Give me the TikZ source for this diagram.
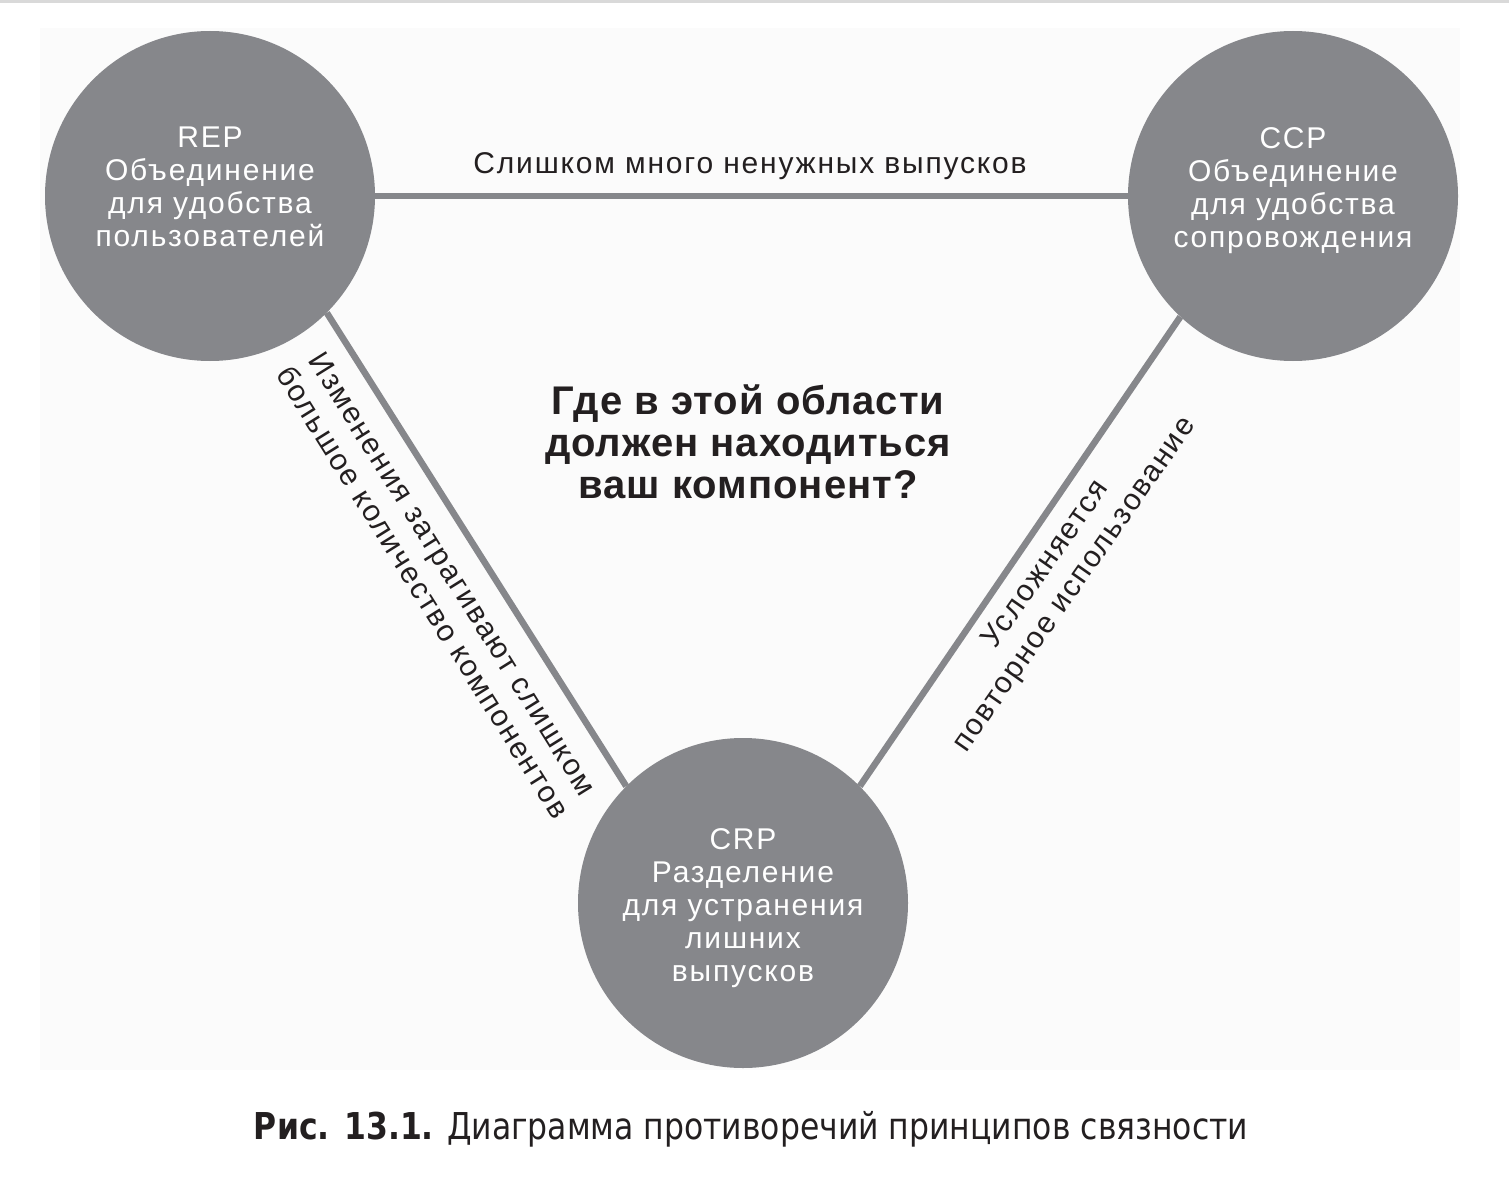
\documentclass[tikz,border=0pt]{standalone}
\usepackage{fontspec}
\setmainfont{Liberation Sans}
\newfontfamily\schrift{Liberation Sans}[LetterSpace=6]
\newfontfamily\frageschrift{Liberation Sans}[LetterSpace=2.5]
\newfontfamily\unterschrift{DejaVu Sans}[FakeStretch=0.85]
\definecolor{kreisgrau}{RGB}{134,135,139}
\definecolor{druck}{RGB}{35,31,32}

\begin{document}
\begin{tikzpicture}[
        x=1pt, y=1pt,
        every node/.style={font=\schrift\fontsize{30}{33}\selectfont, text=druck},
        kreis/.style={circle, fill=kreisgrau, minimum size=330pt, inner sep=0pt},
        kreistext/.style={text=white, align=center, inner sep=0pt, anchor=north},
        kante/.style={draw=kreisgrau, line width=6.5pt},
        marke/.style={align=center, inner sep=0pt},
        schraeg/.style={marke, font=\schrift\fontsize{30}{35}\selectfont},
        frage/.style={marke, font=\frageschrift\bfseries\fontsize{40}{42}\selectfont}
    ]
        \useasboundingbox (0,0) rectangle (1509,-1193);
        \fill[black!15] (0,0) rectangle (1509,-3);
        \fill[black!1.5] (40,-28) rectangle (1460,-1070);

        \node[kreis] (rep) at (210,-196) {};
        \node[kreis] (ccp) at (1293,-196) {};
        \node[kreis] (crp) at (743,-903) {};

        \draw[kante] (rep) -- (ccp);
        \draw[kante] (rep.-45) -- (crp.135);
        \draw[kante] (ccp.-133) -- (crp.45);

        \node[kreistext] (reptext) at ([yshift=69]rep.center)
            {REP\\Объединение\\для удобства\\пользователей};
        \node[kreistext] (ccptext) at ([yshift=69]ccp.center)
            {CCP\\Объединение\\для удобства\\сопровождения};
        \node[kreistext] (crptext) at ([yshift=75]crp.center)
            {CRP\\Разделение\\для устранения\\лишних\\выпусков};

        \node[marke, anchor=base] (oben) at (750,-174)
            {Слишком много ненужных выпусков};
        \node[schraeg, rotate=-58] (links) at (438,-583)
            {Изменения затрагивают слишком\\большое количество компонентов};
        \node[schraeg, rotate=55] (rechts) at (1061,-575)
            {Усложняется\\повторное использование};
        \node[frage] (frage) at (748,-442)
            {Где в этой области\\должен находиться\\ваш компонент?};

        \node[anchor=base, font=\unterschrift\fontsize{37}{40}\selectfont]
            (bildunterschrift) at (751,-1139)
            {\textbf{Рис. 13.1.} Диаграмма противоречий принципов связности};
    \end{tikzpicture}
\end{document}
